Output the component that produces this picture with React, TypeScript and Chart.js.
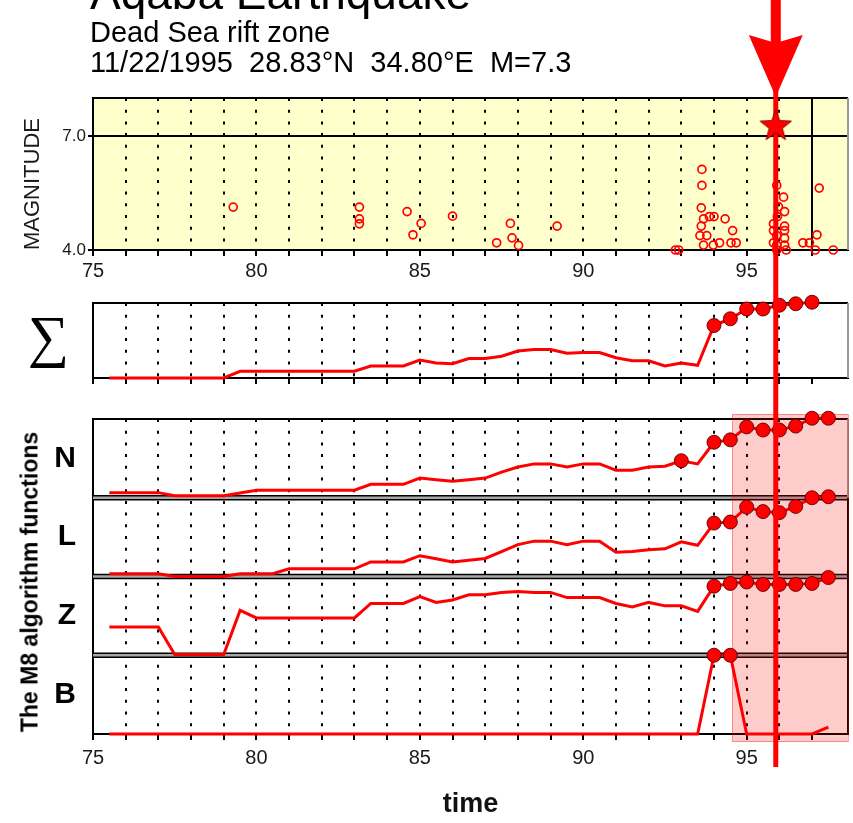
import React, { useEffect, useRef } from 'react';
import { Chart, registerables } from 'chart.js';

Chart.register(...registerables);

const FONT = "'Liberation Sans', Arial, Helvetica, sans-serif";
const SERIF = "'Liberation Serif', 'Times New Roman', serif";
Chart.defaults.font.family = FONT;

// ---------- axes ----------
const X_MIN = 75;
const X_MAX = 98.1;
const YEAR_TICKS = [75, 76, 77, 78, 79, 80, 81, 82, 83, 84, 85, 86, 87, 88, 89, 90, 91, 92, 93, 94, 95, 96, 97];
const YEAR_LABELS = [75, 80, 85, 90, 95];
const LAST_DOTTED_YEAR = 96;
const PRESENT_YEAR = 97;
const MAG_MIN = 4;
const MAG_MAX = 8;
const MAG_TICKS = [4, 7];

// ---------- event ----------
const EVENT_TIME = 95.89;
const EVENT_MAG = 7.3;
const ALARM_START = 94.55;

// ---------- earthquakes (time, magnitude) ----------
const QUAKE_TIMES = [
  79.29, 83.15, 83.15, 83.15, 84.61, 84.79, 85.04, 86.0, 87.35, 87.77, 87.82, 88.02, 89.2,
  92.82, 92.92, 93.63, 93.63, 93.61, 93.68, 93.86, 94.0, 94.34, 93.61, 93.57, 93.78, 93.68,
  93.98, 94.17, 94.57, 94.52, 94.68, 95.92, 96.13, 95.97, 96.16, 95.94, 95.82, 96.16, 95.82,
  96.16, 95.92, 96.16, 95.82, 95.92, 96.16, 95.92, 96.21, 97.22, 96.72, 96.92, 97.15, 97.1, 97.65,
];
const QUAKE_MAGS = [
  5.13, 5.13, 4.82, 4.69, 5.01, 4.4, 4.7, 4.89, 4.19, 4.7, 4.32, 4.12, 4.63,
  4.0, 4.0, 6.12, 5.7, 5.11, 4.82, 4.88, 4.88, 4.82, 4.63, 4.38, 4.38, 4.13,
  4.13, 4.19, 4.51, 4.19, 4.19, 5.7, 5.39, 5.14, 5.01, 4.88, 4.69, 4.63, 4.51,
  4.51, 4.38, 4.31, 4.19, 4.13, 4.13, 4.0, 4.0, 5.63, 4.19, 4.19, 4.4, 4.0, 4.0,
];

// ---------- M8 functions (half-year steps, % of panel height) ----------
const M8_TIMES = [
  75.5, 76, 76.5, 77, 77.5, 78, 78.5, 79, 79.5, 80, 80.5, 81, 81.5, 82, 82.5, 83, 83.5, 84, 84.5,
  85, 85.5, 86, 86.5, 87, 87.5, 88, 88.5, 89, 89.5, 90, 90.5, 91, 91.5, 92, 92.5, 93, 93.5,
  94, 94.5, 95, 95.5, 96, 96.5, 97, 97.5,
];
const SIGMA = [
  0, 0, 0, 0, 0, 0, 0, 0, 9, 9, 9, 9, 9, 9, 9, 9, 16, 16, 16,
  24, 20, 19, 26, 26, 29, 36, 38, 38, 33, 34, 34, 27, 23, 23, 16, 20, 17,
  70, 79, 92, 92, 97, 99, 101,
];
const N_FN = [
  6.5, 6.5, 6.5, 6.5, 2.6, 2.6, 2.6, 2.6, 6, 9.5, 9.5, 9.5, 9.5, 9.5, 9.5, 9.5, 17, 17, 17,
  25, 23, 21, 23, 25, 32.5, 39, 43, 43, 39, 43, 43, 35, 35, 39, 40, 47, 43,
  70.5, 73.5, 90, 86, 86, 91, 101, 101,
];
const L_FN = [
  3.5, 3.5, 3.5, 3.5, 0, 0, 0, 0, 3.5, 3.5, 3.5, 9.7, 9.7, 9.7, 9.7, 9.7, 18.5, 18.5, 18.5,
  26.4, 22.5, 18.5, 20.7, 22.9, 31.7, 40.5, 44.9, 44.9, 40.5, 44.9, 44.9, 30.8, 31.7, 33.9, 35.2, 44, 39.6,
  67.8, 69.2, 88.1, 82.4, 81.1, 89, 100, 101.3,
];
const Z_FN = [
  36, 36, 36, 36, 1, 1, 1, 1, 57, 47.4, 47.4, 47.4, 47.4, 47.4, 47.4, 47.4, 65.8, 65.8, 65.8,
  74.6, 67.1, 70.2, 76.8, 76.8, 79.8, 81.1, 79.8, 79.8, 73.2, 73.2, 73.2, 65.8, 61.4, 67.1, 62.7, 62.7, 55.7,
  87.7, 91.2, 93, 89.9, 89.9, 89.9, 91.2, 98.7,
];
const B_FN = [
  0, 0, 0, 0, 0, 0, 0, 0, 0, 0, 0, 0, 0, 0, 0, 0, 0, 0, 0,
  0, 0, 0, 0, 0, 0, 0, 0, 0, 0, 0, 0, 0, 0, 0, 0, 0, 0,
  100, 100, 0, 0, 0, 0, 0, 8.7,
];
const SIGMA_HIGH = [94, 94.5, 95, 95.5, 96, 96.5, 97];
const N_HIGH = [93, 94, 94.5, 95, 95.5, 96, 96.5, 97, 97.5];
const L_HIGH = [94, 94.5, 95, 95.5, 96, 96.5, 97, 97.5];
const Z_HIGH = [94, 94.5, 95, 95.5, 96, 96.5, 97, 97.5];
const B_HIGH = [94, 94.5];

const RED = '#ff0000';

function yearAxis(p: { height: number; labels: boolean; labelPad: number; solidYear?: number; title?: boolean }) {
  return {
    type: 'linear',
    position: 'bottom',
    min: X_MIN,
    max: X_MAX,
    afterBuildTicks: (s: any) => {
      s.ticks = YEAR_TICKS.map((v) => ({ value: v }));
    },
    afterFit: (s: any) => {
      s.height = p.height;
      s.paddingLeft = 0;
      s.paddingRight = 0;
    },
    ticks: {
      autoSkip: false,
      maxRotation: 0,
      minRotation: 0,
      padding: p.labelPad,
      color: '#1a1a1a',
      font: { family: FONT, size: 20 },
      callback: (v: any) => (p.labels && YEAR_LABELS.includes(v) ? String(v) : ''),
    },
    grid: {
      color: (c: any) => {
        const v = c.tick ? c.tick.value : undefined;
        if (v === undefined) return 'rgba(0,0,0,0)';
        if (v === p.solidYear) return '#000';
        return v > X_MIN && v <= LAST_DOTTED_YEAR ? '#000' : 'rgba(0,0,0,0)';
      },
      lineWidth: 2,
      drawTicks: true,
      tickLength: 6,
      tickColor: '#000',
      tickWidth: 2,
    },
    border: {
      display: true,
      color: '#000',
      width: 2,
      dash: (c: any) => (c.tick && c.tick.value === p.solidYear ? [] : [3, 8.7]),
    },
    title: p.title
      ? { display: true, text: 'time', color: '#111', font: { family: FONT, size: 27, weight: 'bold' }, padding: { top: 0, bottom: 2 } }
      : { display: false },
  };
}

function panelAxis(p: { label: string; font: any; pad: number; stack?: string; weight?: number }) {
  return {
    type: 'linear',
    position: 'left',
    min: 0,
    max: 100,
    stack: p.stack,
    stackWeight: 1,
    weight: p.weight || 0,
    afterBuildTicks: (s: any) => {
      s.ticks = [{ value: 50 }];
    },
    afterFit: (s: any) => {
      s.width = 93;
      s.paddingTop = 0;
      s.paddingBottom = 0;
    },
    ticks: { callback: () => p.label, font: p.font, color: '#000', padding: p.pad },
    grid: { display: false, drawTicks: false },
    border: { display: true, color: '#000', width: 2 },
  };
}

function m8Dataset(values: number[], high: number[], axis: string, label: string) {
  return {
    label,
    type: 'line',
    data: values.map((v, i) => ({ x: M8_TIMES[i], y: v })),
    yAxisID: axis,
    xAxisID: 'x',
    borderColor: RED,
    borderWidth: 3,
    tension: 0,
    clip: false,
    pointRadius: (c: any) => (high.includes(M8_TIMES[c.dataIndex]) ? 7 : 0),
    pointBackgroundColor: RED,
    pointBorderColor: 'rgba(90,0,0,0.9)',
    pointBorderWidth: 1,
  };
}

function makeStar(r: number) {
  const c = document.createElement('canvas');
  const size = Math.ceil(r * 2 + 4);
  c.width = size;
  c.height = size;
  const g = c.getContext('2d')!;
  g.translate(size / 2, size / 2 + r * 0.1);
  g.beginPath();
  for (let i = 0; i < 10; i++) {
    const rad = i % 2 === 0 ? r : r * 0.42;
    const a = -Math.PI / 2 + (i * Math.PI) / 5;
    g.lineTo(rad * Math.cos(a), rad * Math.sin(a));
  }
  g.closePath();
  g.fillStyle = RED;
  g.fill();
  g.strokeStyle = '#8a0000';
  g.lineWidth = 1;
  g.stroke();
  return c;
}

function hLine(ctx: CanvasRenderingContext2D, x1: number, x2: number, y: number, color: string, w: number) {
  ctx.strokeStyle = color;
  ctx.lineWidth = w;
  ctx.beginPath();
  ctx.moveTo(x1, y);
  ctx.lineTo(x2, y);
  ctx.stroke();
}
function vLine(ctx: CanvasRenderingContext2D, x: number, y1: number, y2: number, color: string, w: number) {
  ctx.strokeStyle = color;
  ctx.lineWidth = w;
  ctx.beginPath();
  ctx.moveTo(x, y1);
  ctx.lineTo(x, y2);
  ctx.stroke();
}

const yellowBg = {
  id: 'yellowBg',
  beforeDraw(chart: any) {
    const a = chart.chartArea;
    chart.ctx.save();
    chart.ctx.fillStyle = '#ffffcc';
    chart.ctx.fillRect(a.left, a.top, a.right - a.left, a.bottom - a.top);
    chart.ctx.restore();
  },
};

const simpleFrame = {
  id: 'simpleFrame',
  beforeDatasetsDraw(chart: any) {
    const { ctx, chartArea: a } = chart;
    ctx.save();
    hLine(ctx, a.left - 1, a.right, a.top, '#000', 2);
    vLine(ctx, a.right, a.top, a.bottom, '#9a9a9a', 2);
    ctx.restore();
  },
};

const eventArrow = {
  id: 'eventArrow',
  beforeDatasetsDraw(chart: any) {
    const { ctx } = chart;
    const x = chart.scales.x.getPixelForValue(EVENT_TIME);
    ctx.save();
    ctx.fillStyle = RED;
    ctx.fillRect(x - 5, 0, 10, 44);
    ctx.beginPath();
    ctx.moveTo(x - 27, 35);
    ctx.lineTo(x, 43);
    ctx.lineTo(x + 27, 35);
    ctx.lineTo(x, 97);
    ctx.closePath();
    ctx.fill();
    ctx.fillRect(x - 2.5, 90, 5, chart.height - 90);
    ctx.restore();
  },
};

const eventLine = {
  id: 'eventLine',
  afterDatasetsDraw(chart: any, _args: any, opts: any) {
    const { ctx } = chart;
    const x = chart.scales.x.getPixelForValue(EVENT_TIME);
    const end = opts && opts.extend != null ? chart.chartArea.bottom + opts.extend : chart.height;
    ctx.save();
    ctx.fillStyle = RED;
    ctx.fillRect(x - 2.5, 0, 5, end);
    ctx.restore();
  },
};

const m8Decor = {
  id: 'm8Decor',
  beforeDatasetsDraw(chart: any) {
    const { ctx, chartArea: a, scales } = chart;
    const ids = ['yN', 'yL', 'yZ', 'yB'];
    ctx.save();
    hLine(ctx, a.left - 1, a.right, a.top, '#000', 2);
    for (let i = 1; i < ids.length; i++) {
      const yb = scales[ids[i]].top;
      ctx.fillStyle = '#a8a8a8';
      ctx.fillRect(a.left, yb - 2, a.right - a.left, 4);
      hLine(ctx, a.left - 1, a.right, yb - 2, '#000', 1.3);
      hLine(ctx, a.left - 1, a.right, yb + 2, '#000', 1.3);
    }
    vLine(ctx, a.right, scales.yN.top, scales.yN.bottom, '#9a9a9a', 2);
    vLine(ctx, a.right, scales.yL.top, a.bottom, '#000', 2);
    const x0 = scales.x.getPixelForValue(ALARM_START);
    ctx.fillStyle = 'rgba(255,0,0,0.2)';
    ctx.fillRect(x0, a.top - 5, a.right - x0, a.bottom - a.top + 13);
    ctx.strokeStyle = 'rgba(255,0,0,0.35)';
    ctx.lineWidth = 1;
    ctx.strokeRect(x0 + 0.5, a.top - 4.5, a.right - x0, a.bottom - a.top + 12);
    ctx.restore();
  },
};

export default function App() {
  const aRef = useRef<HTMLCanvasElement>(null);
  const bRef = useRef<HTMLCanvasElement>(null);
  const cRef = useRef<HTMLCanvasElement>(null);

  useEffect(() => {
    const charts: Chart[] = [];
    const star = makeStar(16.5);

    charts.push(
      new Chart(aRef.current!, {
        type: 'scatter',
        data: {
          datasets: [
            {
              label: 'Earthquakes',
              data: QUAKE_TIMES.map((t, i) => ({ x: t, y: QUAKE_MAGS[i] })),
              pointStyle: 'circle',
              pointRadius: 4,
              pointBorderWidth: 1.7,
              pointBorderColor: RED,
              pointBackgroundColor: 'rgba(255,255,255,0)',
              clip: false,
            } as any,
            {
              label: 'Aqaba earthquake',
              data: [{ x: EVENT_TIME, y: EVENT_MAG }],
              pointStyle: star,
              pointRadius: 16,
              clip: false,
            } as any,
          ],
        },
        options: {
          responsive: false,
          animation: false,
          events: [],
          layout: { autoPadding: false, padding: { top: 98, right: 5, left: 0, bottom: 0 } },
          plugins: { legend: { display: false }, tooltip: { enabled: false } },
          scales: {
            x: yearAxis({ height: 40, labels: true, labelPad: 3, solidYear: PRESENT_YEAR }) as any,
            y: {
              type: 'linear',
              position: 'left',
              min: MAG_MIN,
              max: MAG_MAX,
              afterBuildTicks: (s: any) => {
                s.ticks = MAG_TICKS.map((v) => ({ value: v }));
              },
              afterFit: (s: any) => {
                s.width = 93;
                s.paddingTop = 0;
                s.paddingBottom = 0;
              },
              ticks: {
                callback: (v: any) => Number(v).toFixed(1),
                font: { family: FONT, size: 17 },
                color: '#1a1a1a',
                padding: 2,
              },
              grid: { color: '#000', lineWidth: 2, tickLength: 5, tickColor: '#000', tickWidth: 2 },
              border: { display: true, color: '#000', width: 2 },
              title: {
                display: true,
                text: 'MAGNITUDE',
                align: 'start',
                color: '#1a1a1a',
                font: { family: FONT, size: 22 },
                padding: { top: 20, bottom: 0 },
              },
            } as any,
          },
        },
        plugins: [yellowBg, simpleFrame, eventArrow],
      } as any)
    );

    charts.push(
      new Chart(bRef.current!, {
        type: 'line',
        data: { datasets: [m8Dataset(SIGMA, SIGMA_HIGH, 'y', 'Σ') as any] },
        options: {
          responsive: false,
          animation: false,
          events: [],
          layout: { autoPadding: false, padding: { top: 13, right: 5, left: 0, bottom: 0 } },
          plugins: { legend: { display: false }, tooltip: { enabled: false } },
          scales: {
            x: yearAxis({ height: 22, labels: false, labelPad: 2 }) as any,
            y: panelAxis({ label: '\u2211', font: { family: SERIF, size: 58 }, pad: 24 }) as any,
          },
        },
        plugins: [simpleFrame, eventLine],
      } as any)
    );

    const letterFont = { family: FONT, size: 30, weight: 'bold' };
    charts.push(
      new Chart(cRef.current!, {
        type: 'line',
        data: {
          datasets: [
            m8Dataset(N_FN, N_HIGH, 'yN', 'N') as any,
            m8Dataset(L_FN, L_HIGH, 'yL', 'L') as any,
            m8Dataset(Z_FN, Z_HIGH, 'yZ', 'Z') as any,
            m8Dataset(B_FN, B_HIGH, 'yB', 'B') as any,
          ],
        },
        options: {
          responsive: false,
          animation: false,
          events: [],
          layout: { autoPadding: false, padding: { top: 19, right: 5, left: 0, bottom: 0 } },
          plugins: { legend: { display: false }, tooltip: { enabled: false }, eventLine: { extend: 33 } } as any,
          scales: {
            x: yearAxis({ height: 89, labels: true, labelPad: 6, title: true }) as any,
            yN: panelAxis({ label: 'N', font: letterFont, pad: 17, stack: 'm8', weight: 4 }) as any,
            yL: panelAxis({ label: 'L', font: letterFont, pad: 17, stack: 'm8', weight: 3 }) as any,
            yZ: panelAxis({ label: 'Z', font: letterFont, pad: 17, stack: 'm8', weight: 2 }) as any,
            yB: panelAxis({ label: 'B', font: letterFont, pad: 17, stack: 'm8', weight: 1 }) as any,
          },
        },
        plugins: [m8Decor, eventLine],
      } as any)
    );

    return () => charts.forEach((c) => c.destroy());
  }, []);

  const text = (fs: number): React.CSSProperties => ({
    position: 'absolute',
    fontFamily: FONT,
    fontSize: fs,
    lineHeight: `${fs}px`,
    color: '#000',
    whiteSpace: 'nowrap',
  });

  return (
    <div style={{ position: 'absolute', left: 0, top: 0, width: 853, height: 823, background: '#fff', overflow: 'hidden' }}>
      <canvas ref={aRef} width={853} height={290} style={{ position: 'absolute', left: 0, top: 0, width: 853, height: 290 }} />
      <canvas ref={bRef} width={853} height={110} style={{ position: 'absolute', left: 0, top: 290, width: 853, height: 110 }} />
      <canvas ref={cRef} width={853} height={423} style={{ position: 'absolute', left: 0, top: 400, width: 853, height: 423 }} />
      <div style={{ ...text(46), left: 90, top: -30 }}>Aqaba Earthquake</div>
      <div style={{ ...text(29), left: 90, top: 18 }}>Dead Sea rift zone</div>
      <div style={{ ...text(29), left: 90, top: 48, whiteSpace: 'pre' }}>11/22/1995  28.83°N  34.80°E  M=7.3</div>
      <div
        style={{
          ...text(23),
          fontWeight: 'bold',
          left: 30,
          top: 582,
          transform: 'translate(-50%, -50%) rotate(-90deg)',
        }}
      >
        The M8 algorithm functions
      </div>
    </div>
  );
}
